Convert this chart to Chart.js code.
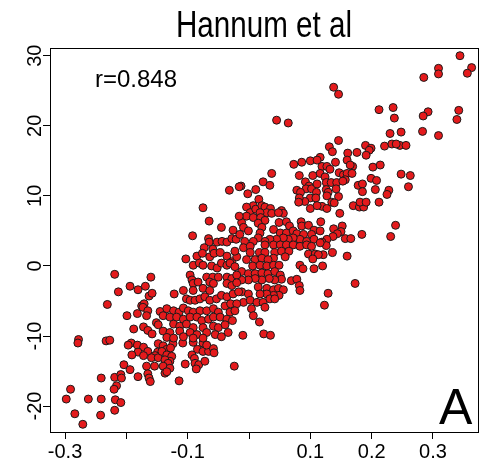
<!DOCTYPE html>
<html>
<head>
<meta charset="utf-8">
<script src="https://cdn.jsdelivr.net/npm/chart.js@4.4.1/dist/chart.umd.min.js"></script>
<style>
  body { margin: 0; background: #fff; }
  canvas { display: block; }
</style>
</head>
<body>
<canvas id="scatter-chart" width="488" height="467"></canvas>
<script>
const chartTitle = 'Hannum et al';
const corrLabel = 'r=0.848';
const panelLabel = 'A';

const xTicks = [-0.3, -0.2, -0.1, 0, 0.1, 0.2, 0.3];
const xTickLabels = ['-0.3', '', '-0.1', '', '0.1', '0.2', '0.3'];
const yTicks = [-20, -10, 0, 10, 20, 30];
const yTickLabels = ['-20', '-10', '0', '10', '20', '30'];

// [x, y] pairs
const points = [
  [-0.219,-1.2],[-0.160,-1.6],[-0.213,-3.7],[-0.194,-2.9],[-0.181,-3.4],[-0.169,-2.9],[-0.163,-4.3],[-0.158,-3.9],
  [-0.231,-5.5],[-0.175,-5.7],[-0.171,-5.4],[-0.173,-5.9],[-0.165,-6.4],[-0.199,-7.1],[-0.182,-6.8],[-0.167,-7.1],
  [-0.145,-6.5],[-0.151,-8.1],[-0.148,-8.4],[-0.188,-9.0],[-0.172,-8.7],[-0.165,-9.2],[-0.158,-9.7],[-0.278,-10.5],
  [-0.279,-11.0],[-0.233,-10.7],[-0.227,-10.6],[-0.192,-11.0],[-0.197,-11.3],[-0.182,-11.3],[-0.172,-11.6],[-0.165,-12.2],
  [-0.181,-12.3],[-0.172,-12.8],[-0.191,-12.7],[-0.148,-11.1],[-0.149,-12.3],[-0.153,-12.8],[-0.159,-13.1],[-0.148,-13.1],
  [-0.167,-14.3],[-0.154,-14.3],[-0.204,-14.1],[-0.194,-14.8],[-0.165,-15.4],[-0.163,-16.0],[-0.161,-16.5],[-0.181,-15.8],
  [-0.241,-16.0],[-0.219,-15.9],[-0.209,-15.5],[-0.208,-16.0],[-0.216,-17.1],[-0.220,-17.6],[-0.291,-17.6],[-0.298,-19.0],
  [-0.262,-19.0],[-0.241,-19.0],[-0.218,-19.1],[-0.209,-19.5],[-0.284,-21.1],[-0.242,-21.3],[-0.219,-20.6],[-0.271,-22.6],
  [-0.124,-11.1],[-0.108,-11.0],[-0.091,-10.9],[-0.075,-11.0],[-0.084,-11.9],[-0.075,-12.2],[-0.066,-12.2],[-0.069,-11.3],
  [-0.058,-11.8],[-0.057,-12.4],[-0.093,-12.7],[-0.089,-13.2],[-0.088,-13.9],[-0.082,-14.1],[-0.072,-13.6],[-0.086,-14.7],
  [-0.104,-14.0],[-0.114,-16.4],[-0.024,-14.3],
  [-0.140,-11.4],[-0.134,-11.9],[-0.142,-12.2],[-0.128,-11.7],[-0.134,-12.7],[-0.126,-12.9],[-0.129,-13.6],[-0.137,-13.4],
  [-0.132,-13.9],[-0.140,-14.3],[-0.129,-14.6],[-0.137,-15.3],[-0.134,-15.1],
  [0.344,30.0],[0.309,28.2],[0.309,27.4],[0.285,26.9],[0.363,28.3],[0.356,27.5],[0.292,22.0],[0.284,21.4],
  [0.342,22.2],[0.339,20.9],[0.283,19.2],[0.309,18.6],[0.248,19.1],[0.246,17.2],[0.256,17.2],[0.248,13.1],
  [0.263,12.9],[0.260,11.3],[0.138,25.5],[0.146,24.5],[0.045,20.8],[0.064,20.4],[0.212,22.3],[0.235,22.6],[0.237,21.1],
  [0.230,18.9],[0.221,17.1],[0.233,17.4],[0.240,17.4],[0.146,17.9],[0.131,17.0],[0.136,16.3],[0.161,16.1],
  [0.176,16.2],[0.190,17.2],[0.199,16.8],[0.196,16.5],[0.191,15.8],[0.116,15.5],[0.141,14.8],[0.160,15.1],[0.169,14.2],
  [0.165,14.4],[0.119,14.2],[0.127,14.2],[0.132,13.8],[0.202,14.1],[0.214,14.4],[0.116,13.2],[0.124,12.7],[0.126,11.9],
  [0.134,11.9],[0.143,11.9],[0.142,11.0],[0.147,13.3],[0.154,13.0],[0.160,13.2],[0.168,13.2],[0.157,12.3],[0.153,12.1],
  [0.199,12.5],[0.208,12.2],[0.178,11.5],[0.185,11.7],[0.185,10.6],[0.206,10.9],[0.228,10.8],[0.225,10.2],[0.126,10.9],
  [0.129,10.5],[0.127,10.0],[0.146,9.9],[0.119,8.5],[0.127,8.2],[0.135,9.1],[0.139,9.0],[0.170,8.6],[0.180,8.4],
  [0.187,8.4],[0.181,9.1],[0.191,9.1],[0.212,9.1],[0.148,7.5],
  [0.117,6.3],[0.138,5.3],[0.152,5.7],[0.150,4.9],[0.144,4.6],[0.137,4.2],[0.157,3.9],[0.166,3.9],
  [0.184,4.5],[0.239,5.8],[0.231,4.2],[0.127,3.8],[0.119,3.4],[0.126,2.9],[0.136,1.9],[0.121,1.6],
  [0.160,1.4],[0.120,0.0],[0.173,-2.5],[0.129,-3.9],[0.123,-5.6],
  [0.073,14.5],[0.086,14.8],[0.100,15.0],[0.111,15.1],[0.037,13.2],[0.082,12.9],[0.104,12.9],[0.023,12.0],
  [0.034,11.5],[0.092,12.0],[0.098,11.4],[0.093,11.0],[0.102,11.0],[0.111,11.7],[0.078,10.8],[0.084,10.5],
  [-0.002,10.3],[0.011,10.9],[-0.013,11.4],[0.110,10.5],[0.100,9.7],[0.109,9.7],[0.091,9.2],[0.082,9.7],
  [0.081,9.1],[0.100,8.2],[0.111,8.6],[0.016,9.5],[0.007,8.6],[-0.004,8.4],[0.002,7.6],[0.011,8.1],[0.021,8.6],
  [0.026,8.4],[0.035,8.2],[0.029,7.6],[0.037,7.5],[0.018,7.6],[-0.004,7.1],[0.007,6.9],[0.019,6.9],
  [0.026,6.5],[0.015,6.1],[0.021,5.5],[0.018,4.7],[0.053,7.9],[0.056,7.5],[0.048,7.6],[0.049,6.2],[0.061,6.3],
  [0.066,5.7],[0.085,6.3],[0.086,5.7],[0.097,5.8],[0.106,5.1],[0.116,5.0],[-0.012,6.2],[-0.009,5.5],[-0.001,5.0],
  [0.040,5.2],[0.051,4.7],[0.061,4.7],[0.072,5.0],[0.078,4.6],[0.089,4.5],[0.083,3.8],[0.072,4.0],
  [0.064,3.8],[0.056,4.0],[0.045,3.8],[0.034,3.8],[0.026,3.5],[0.102,4.5],[0.094,3.5],[0.106,3.8],
  [0.116,3.3],[0.015,4.0],[0.007,3.5],[-0.007,3.5],[-0.009,2.6],[0.002,2.8],[0.026,3.0],[0.040,3.0],[0.051,3.0],
  [0.061,3.0],[0.072,3.0],[0.083,2.8],[0.094,3.0],[0.102,2.8],
  [0.002,1.9],[0.017,1.9],[0.026,1.9],[0.042,1.9],[0.053,2.1],[0.065,2.1],[0.059,1.3],[0.040,1.1],
  [0.097,1.7],[0.108,1.7],[0.113,1.6],[0.104,1.0],[-0.004,0.9],[0.010,0.9],[0.021,1.1],[0.031,0.9],[0.006,0.0],
  [0.018,0.1],[0.029,0.0],[0.040,0.1],[0.049,0.1],[0.083,0.1],[0.088,-0.4],[0.106,-0.4],[-0.012,-0.8],
  [-0.001,-1.1],[0.010,-1.1],[0.021,-1.0],[0.031,-1.1],[0.042,-0.8],[0.051,-1.3],[0.053,-1.9],[0.042,-2.0],
  [0.033,-1.8],[0.021,-2.0],[0.010,-1.8],[-0.001,-2.0],[-0.012,-2.0],[0.069,-2.1],[0.078,-1.9],[0.082,-2.8],
  [0.083,-3.5],[0.015,-3.0],[0.029,-3.2],[0.040,-3.4],[0.048,-3.2],[0.056,-3.4],[0.049,-4.2],[0.040,-4.2],
  [0.029,-4.0],[0.018,-4.0],
  [-0.012,-3.7],[-0.001,-4.0],[-0.009,-5.2],[0.002,-4.9],[0.013,-5.2],[0.023,-5.2],[0.034,-4.7],[0.042,-4.7],
  [0.026,-5.9],[0.004,-6.1],[0.007,-7.1],[0.017,-8.0],[-0.010,-9.9],[0.024,-9.7],[0.035,-9.9],
  [-0.032,10.8],[-0.016,11.3],[-0.075,8.3],[-0.065,6.4],[-0.016,7.1],[-0.045,5.5],[-0.026,5.1],[-0.092,4.3],
  [-0.066,3.9],[-0.065,3.4],[-0.052,3.4],[-0.044,3.5],[-0.036,3.4],[-0.028,3.9],[-0.021,3.8],[-0.015,4.5],[-0.073,2.6],
  [-0.059,2.4],
  [-0.103,1.0],[-0.085,1.4],[-0.076,1.8],[-0.064,1.3],[-0.057,1.8],[-0.047,1.9],[-0.036,1.4],[-0.028,0.6],
  [-0.020,1.3],[-0.023,2.1],[-0.091,0.1],[-0.081,0.4],[-0.075,0.1],[-0.061,0.0],[-0.052,-0.3],[-0.045,0.4],
  [-0.036,0.1],[-0.031,0.4],[-0.023,-0.1],[-0.096,-1.3],[-0.093,-2.0],[-0.091,-2.5],[-0.083,-2.3],[-0.069,-1.6],
  [-0.059,-1.6],[-0.064,-2.3],[-0.058,-2.5],[-0.050,-1.6],[-0.036,-1.6],[-0.028,-1.8],[-0.020,-1.3],[-0.036,-2.5],
  [-0.028,-2.8],[-0.020,-2.4],[-0.122,-4.0],[-0.107,-3.5],
  [-0.091,-3.5],[-0.075,-3.2],[-0.064,-3.5],[-0.102,-4.7],[-0.096,-4.9],[-0.088,-4.9],[-0.080,-4.7],[-0.072,-4.4],
  [-0.064,-4.9],[-0.053,-4.7],[-0.045,-4.2],[-0.036,-4.4],[-0.026,-4.0],[-0.017,-3.7],[-0.039,-5.7],[-0.030,-5.4],
  [-0.020,-5.4],
  [-0.134,-6.1],[-0.123,-6.4],[-0.114,-6.6],[-0.107,-6.0],[-0.099,-6.4],[-0.091,-6.6],[-0.080,-6.4],[-0.069,-6.4],
  [-0.058,-6.1],[-0.050,-6.6],[-0.031,-6.6],[-0.023,-6.4],[-0.140,-7.1],[-0.129,-7.3],[-0.118,-7.3],[-0.107,-7.6],
  [-0.096,-7.3],[-0.085,-7.3],[-0.077,-7.8],[-0.066,-7.6],[-0.058,-7.3],[-0.047,-7.3],[-0.036,-7.6],[-0.027,-7.8],
  [-0.123,-8.3],[-0.113,-8.6],[-0.102,-8.3],[-0.091,-8.8],[-0.075,-8.8],[-0.058,-8.6],[-0.050,-8.8],[-0.039,-8.4],
  [-0.140,-9.3],[-0.129,-9.5],[-0.113,-9.3],[-0.096,-9.5],[-0.085,-9.8],[-0.069,-9.5],[-0.055,-9.8],[-0.034,-9.5],
  [-0.134,-10.2],[-0.123,-10.3],[-0.107,-10.1],[-0.091,-10.3],[-0.075,-10.3],[-0.045,-10.1]
];

const xMin = -0.3245, xMax = 0.3734;
const yMin = -23.7, yMax = 31.1;
const fontFamily = '"Liberation Sans", Arial, sans-serif';

const framePlugin = {
    id: 'frame',
    afterDraw(chart) {
        const ctx = chart.ctx;
        const area = chart.chartArea;
        ctx.save();
        ctx.strokeStyle = '#000';
        ctx.lineWidth = 1;
        ctx.strokeRect(Math.round(area.left) + 0.5, Math.round(area.top) + 0.5,
            Math.round(area.right - area.left), Math.round(area.bottom - area.top));

        // y tick labels, rotated like base R
        const yScale = chart.scales.y;
        ctx.fillStyle = '#000';
        ctx.font = '20px ' + fontFamily;
        ctx.textAlign = 'center';
        ctx.textBaseline = 'middle';
        yTicks.forEach((v, i) => {
            ctx.save();
            ctx.translate(35, yScale.getPixelForValue(v));
            ctx.rotate(-Math.PI / 2);
            ctx.fillText(yTickLabels[i], 0, 0);
            ctx.restore();
        });

        // title (narrower face than the axis text)
        ctx.save();
        ctx.font = '37px ' + fontFamily;
        ctx.textBaseline = 'alphabetic';
        ctx.translate((area.left + area.right) / 2, 37);
        ctx.scale(0.8, 1);
        ctx.fillText(chartTitle, 0, 0);
        ctx.restore();

        ctx.textAlign = 'left';
        ctx.textBaseline = 'alphabetic';
        ctx.font = '24px ' + fontFamily;
        ctx.fillText(corrLabel, 95, 87);

        ctx.font = '50px ' + fontFamily;
        ctx.fillText(panelLabel, 439, 424);
        ctx.restore();
    }
};

new Chart(document.getElementById('scatter-chart').getContext('2d'), {
    type: 'scatter',
    data: {
        datasets: [{
            data: points.map(p => ({ x: p[0], y: p[1] })),
            backgroundColor: '#e41a1c',
            borderColor: '#1a1a1a',
            borderWidth: 1,
            pointRadius: 4
        }]
    },
    options: {
        responsive: false,
        animation: false,
        devicePixelRatio: 1,
        layout: { padding: { top: 48, right: 10, left: 0, bottom: 0 } },
        plugins: {
            legend: { display: false },
            tooltip: { enabled: false }
        },
        scales: {
            x: {
                type: 'linear',
                min: xMin,
                max: xMax,
                afterBuildTicks: scale => { scale.ticks = xTicks.map(v => ({ value: v })); },
                afterFit: scale => { scale.height = 35; },
                ticks: {
                    color: '#000',
                    font: { size: 20, family: fontFamily },
                    padding: 1,
                    maxRotation: 0,
                    autoSkip: false,
                    callback: (value, index) => xTickLabels[index]
                },
                grid: { drawOnChartArea: false, drawTicks: true, tickLength: 7, color: '#000' },
                border: { display: true, color: '#000' }
            },
            y: {
                type: 'linear',
                min: yMin,
                max: yMax,
                afterBuildTicks: scale => { scale.ticks = yTicks.map(v => ({ value: v })); },
                afterFit: scale => { scale.width = 50; },
                ticks: { display: false },
                grid: { drawOnChartArea: false, drawTicks: true, tickLength: 7, color: '#000' },
                border: { display: true, color: '#000' }
            }
        }
    },
    plugins: [framePlugin]
});
</script>
</body>
</html>
